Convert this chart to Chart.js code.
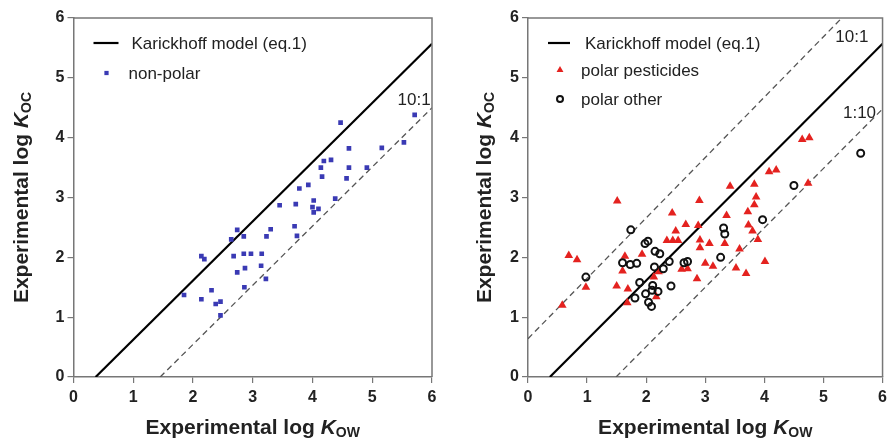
<!DOCTYPE html>
<html>
<head>
<meta charset="utf-8">
<script src="https://cdn.jsdelivr.net/npm/chart.js@4.4.1/dist/chart.umd.min.js"></script>
<style>
  html, body { margin: 0; padding: 0; background: #fff; }
  #wrap { position: relative; width: 892px; height: 442px; overflow: hidden; }
  canvas { position: absolute; top: 0; }
  #c1 { left: 0; }
  #c2 { left: 446px; }
</style>
</head>
<body>
<div id="wrap">
  <canvas id="c1" width="446" height="442"></canvas>
  <canvas id="c2" width="446" height="442"></canvas>
</div>
<script>
// ---------------- data ----------------
const tickValues = [0, 1, 2, 3, 4, 5, 6];

// left panel: non-polar compounds
const nonPolarX = [5.71,5.53,5.16,4.91,4.61,4.61,4.57,4.47,4.31,4.19,4.14,4.16,3.93,3.78,4.02,4.38,3.45,3.72,4.00,4.10,4.02,3.70,3.74,3.30,3.23,3.15,3.14,3.22,2.97,2.85,2.87,2.86,2.74,2.85,2.74,2.64,2.68,2.14,2.19,1.85,2.14,2.31,2.38,2.46,2.46];
const nonPolarY = [4.38,3.92,3.83,3.50,3.82,3.50,3.32,4.25,3.63,3.61,3.50,3.35,3.21,3.15,2.95,2.98,2.87,2.89,2.84,2.81,2.75,2.52,2.36,2.47,2.35,2.06,1.86,1.64,2.06,2.06,1.82,1.50,1.75,2.35,2.46,2.30,2.02,2.02,1.97,1.37,1.30,1.45,1.22,1.26,1.03];

// right panel: polar pesticides
const pestX = [1.51,0.69,0.83,0.98,0.58,1.64,1.60,1.50,1.69,1.68,1.93,2.13,2.17,2.21,2.35,2.45,2.54,2.50,2.44,2.67,2.60,2.70,2.86,2.90,2.88,2.91,2.91,3.07,3.00,3.13,3.33,3.36,3.42,3.58,3.52,3.69,3.72,3.73,3.80,3.89,3.83,3.86,3.83,4.01,4.74,4.64,4.76,4.08,4.20];
const pestY = [2.94,2.03,1.96,1.50,1.20,2.02,1.77,1.52,1.47,1.24,2.05,1.67,1.34,1.76,2.28,2.28,2.28,2.44,2.74,2.55,1.80,1.81,1.64,2.95,2.53,2.29,2.16,2.23,1.90,1.85,2.23,2.70,3.19,2.14,1.82,1.73,2.76,2.54,2.44,2.30,2.88,3.01,3.22,1.93,3.24,3.97,4.00,3.43,3.46];

// right panel: polar other
const otherX = [0.98,1.74,1.60,1.73,1.84,1.98,2.03,2.15,2.23,1.89,1.81,1.99,2.04,2.09,2.11,2.10,2.20,2.14,2.29,2.39,2.42,2.64,2.70,3.26,3.31,3.33,3.97,4.50,5.63];
const otherY = [1.67,2.46,1.91,1.88,1.90,2.23,2.27,2.10,2.06,1.58,1.32,1.39,1.25,1.18,1.53,1.45,1.43,1.84,1.81,1.93,1.52,1.91,1.93,2.00,2.49,2.39,2.63,3.20,3.74];

// reference lines (end points, log Kow / log Koc)
const karickhoffX = [0.37, 6];
const karickhoffY = [0, 5.57];
const leftDashX = [1.45, 6];
const leftDashY = [0, 4.5];
const rightUpperX = [0, 5.31];
const rightUpperY = [0.64, 6];
const rightLowerX = [1.49, 6.02];
const rightLowerY = [0, 4.5];

// ---------------- helpers ----------------
const FONT = '"Liberation Sans", Arial, Helvetica, sans-serif';
const pts = (xs, ys) => xs.map((x, i) => ({ x: x, y: ys[i] }));

function lineDs(xs, ys, dashed) {
  return {
    type: 'scatter', data: pts(xs, ys), showLine: true, pointRadius: 0,
    borderColor: dashed ? '#555' : '#000', borderWidth: dashed ? 1.3 : 2.2,
    borderDash: dashed ? [6, 4] : [], order: 5, fill: false
  };
}

function scaleCfg(isX, fixedSize) {
  return {
    type: 'linear', min: 0, max: 6,
    afterBuildTicks: (s) => { s.ticks = tickValues.map(v => ({ value: v })); },
    ticks: { color: '#222', font: { family: FONT, size: 16, weight: 'bold' }, padding: isX ? 5 : 3 },
    grid: { display: true, drawOnChartArea: false, drawTicks: true, tickLength: 6, color: '#777', lineWidth: 1.2 },
    border: { display: true, color: '#777', width: 1.5 },
    afterFit: (s) => { if (isX) s.height = fixedSize; else s.width = fixedSize; }
  };
}

function drawRich(ctx, segs, cx, cy, rotate) {
  ctx.save();
  ctx.translate(cx, cy);
  if (rotate) ctx.rotate(-Math.PI / 2);
  ctx.textBaseline = 'middle';
  ctx.textAlign = 'left';
  let total = 0;
  segs.forEach(s => { ctx.font = s.font; total += ctx.measureText(s.t).width; });
  let x = -total / 2;
  segs.forEach(s => {
    ctx.font = s.font;
    ctx.fillStyle = '#222';
    ctx.fillText(s.t, x, s.dy || 0);
    x += ctx.measureText(s.t).width;
  });
  ctx.restore();
}

const decorPlugin = {
  id: 'decor',
  afterDraw(chart, args, opts) {
    const ctx = chart.ctx;
    const a = chart.chartArea;
    const xs = chart.scales.x, ys = chart.scales.y;
    // frame (top and right)
    ctx.save();
    ctx.strokeStyle = '#777';
    ctx.lineWidth = 1.5;
    ctx.beginPath();
    ctx.moveTo(a.left, a.top); ctx.lineTo(a.right, a.top); ctx.lineTo(a.right, a.bottom);
    ctx.stroke();
    ctx.restore();

    // axis titles
    drawRich(ctx, [
      { t: 'Experimental log ', font: 'bold 21px ' + FONT },
      { t: 'K', font: 'italic bold 21px ' + FONT },
      { t: 'OW', font: 'bold 14px ' + FONT, dy: 5 }
    ], (a.left + a.right) / 2, 428, false);
    drawRich(ctx, [
      { t: 'Experimental log ', font: 'bold 21px ' + FONT },
      { t: 'K', font: 'italic bold 21px ' + FONT },
      { t: 'OC', font: 'bold 14px ' + FONT, dy: 5 }
    ], opts.yTitleX, (a.top + a.bottom) / 2, true);

    // legend
    ctx.save();
    ctx.textBaseline = 'middle';
    ctx.textAlign = 'left';
    opts.legend.forEach(item => {
      const y = a.top + item.dy;
      if (item.kind === 'line') {
        ctx.strokeStyle = '#000'; ctx.lineWidth = 2.2; ctx.setLineDash([]);
        ctx.beginPath(); ctx.moveTo(a.left + item.x0, y); ctx.lineTo(a.left + item.x1, y); ctx.stroke();
      } else {
        const ds = chart.data.datasets[item.ds];
        ctx.save();
        ctx.fillStyle = ds.backgroundColor;
        ctx.strokeStyle = ds.borderColor;
        ctx.lineWidth = ds.borderWidth;
        Chart.helpers.drawPoint(ctx, {
          pointStyle: ds.pointStyle, radius: item.r, borderWidth: ds.borderWidth, rotation: 0
        }, a.left + item.x0, y);
        ctx.restore();
      }
      ctx.font = '17px ' + FONT;
      ctx.fillStyle = '#222';
      ctx.fillText(item.text, a.left + item.tx, y + 1);
    });

    // line labels
    ctx.font = '17px ' + FONT;
    opts.labels.forEach(l => {
      ctx.fillStyle = '#222';
      ctx.textAlign = 'center';
      ctx.fillText(l.text, xs.getPixelForValue(l.x), ys.getPixelForValue(l.y));
    });
    ctx.restore();
  }
};

function makeChart(id, datasets, yAxisWidth, rightPad, decor) {
  return new Chart(document.getElementById(id), {
    type: 'scatter',
    data: { datasets: datasets },
    options: {
      responsive: false, animation: false, devicePixelRatio: 1,
      layout: { padding: { top: 18, right: rightPad, left: 0, bottom: 0 } },
      plugins: { legend: { display: false }, tooltip: { enabled: false }, decor: decor },
      scales: { x: scaleCfg(true, 65), y: scaleCfg(false, yAxisWidth) }
    },
    plugins: [decorPlugin]
  });
}

// ---------------- left panel ----------------
makeChart('c1', [
  { label: 'non-polar', data: pts(nonPolarX, nonPolarY), pointStyle: 'rect', pointRadius: 3.3,
    backgroundColor: '#3a3ab4', borderColor: '#3a3ab4', borderWidth: 0, order: 1 },
  Object.assign(lineDs(karickhoffX, karickhoffY, false), { label: 'Karickhoff model (eq.1)' }),
  Object.assign(lineDs(leftDashX, leftDashY, true), { label: '10:1' })
], 73.5, 14, {
  yTitleX: 22,
  legend: [
    { kind: 'line', x0: 20, x1: 45, tx: 58, dy: 25, text: 'Karickhoff model (eq.1)' },
    { kind: 'point', ds: 0, r: 3, x0: 33, tx: 55, dy: 55, text: 'non-polar' }
  ],
  labels: [{ text: '10:1', x: 5.7, y: 4.63 }]
});

// ---------------- right panel ----------------
makeChart('c2', [
  { label: 'polar other', data: pts(otherX, otherY), pointStyle: 'circle', pointRadius: 3.5,
    backgroundColor: 'rgba(0,0,0,0)', borderColor: '#111', borderWidth: 2, order: 1 },
  { label: 'polar pesticides', data: pts(pestX, pestY), pointStyle: 'triangle', pointRadius: 5,
    backgroundColor: '#e4221f', borderColor: '#e4221f', borderWidth: 0, order: 2 },
  Object.assign(lineDs(karickhoffX, karickhoffY, false), { label: 'Karickhoff model (eq.1)' }),
  Object.assign(lineDs(rightUpperX, rightUpperY, true), { label: '10:1' }),
  Object.assign(lineDs(rightLowerX, rightLowerY, true), { label: '1:10' })
], 82, 5, {
  yTitleX: 39,
  legend: [
    { kind: 'line', x0: 20, x1: 42, tx: 57, dy: 25, text: 'Karickhoff model (eq.1)' },
    { kind: 'point', ds: 1, r: 4, x0: 32, tx: 53, dy: 52, text: 'polar pesticides' },
    { kind: 'point', ds: 0, r: 3, x0: 32, tx: 53, dy: 81, text: 'polar other' }
  ],
  labels: [{ text: '10:1', x: 5.48, y: 5.68 }, { text: '1:10', x: 5.61, y: 4.41 }]
});
</script>
</body>
</html>
